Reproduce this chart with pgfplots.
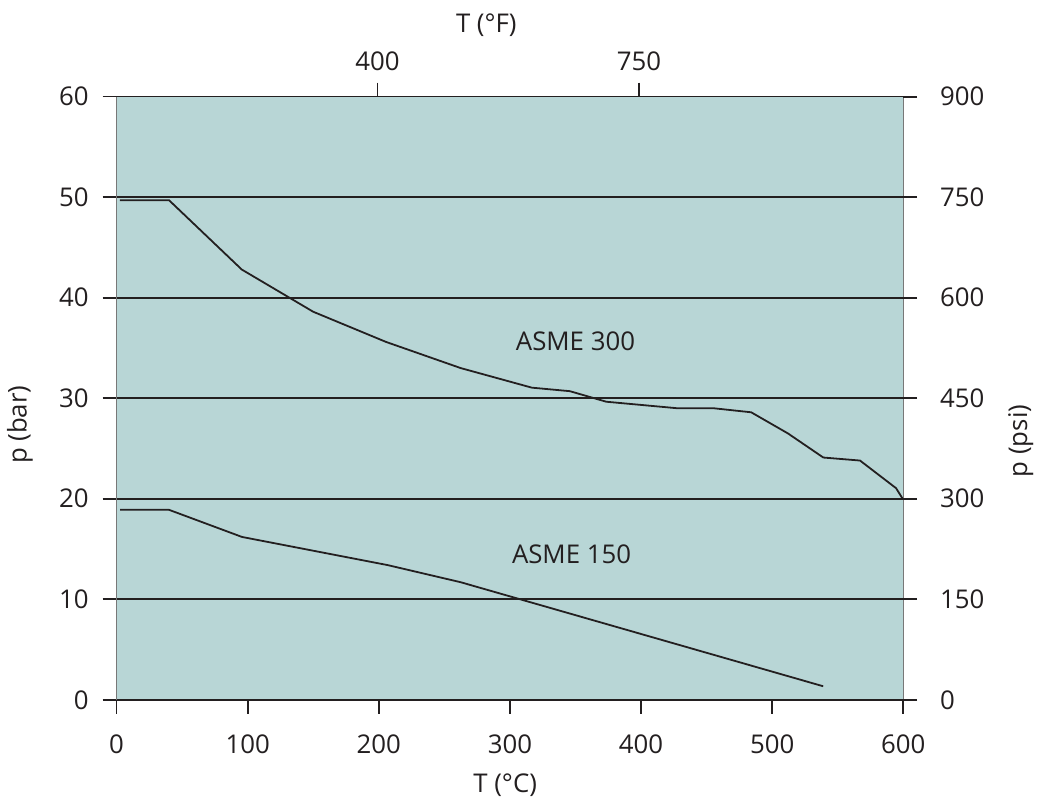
\documentclass[border=0pt]{standalone}
\usepackage{fontspec}
\setmainfont{Open Sans}
\usepackage{pgfplots}
\pgfplotsset{compat=1.18}
\definecolor{bgteal}{RGB}{184,214,214}
\definecolor{ink}{RGB}{35,31,32}
\definecolor{edge}{RGB}{120,120,120}
\begin{document}
\begin{tikzpicture}
\pgfplotsset{
  common/.style={
    scale only axis, width=395bp, height=302.85bp,
    xmin=0, xmax=600, ymin=0,
    font=\fontsize{13}{15.6}\selectfont,
    /pgf/number format/assume math mode=true,
    tick align=outside, major tick length=7bp,
    tick style={ink, line width=0.9bp},
    axis line style={draw=none},
    ticklabel style={text=ink},
    minor tick num=0,
  }
}
\begin{axis}[common, ymax=60,
  axis background/.style={fill=bgteal},
  xtick={0,100,...,600}, ytick={0,10,...,60},
  xtick pos=lower, ytick pos=left,
  xticklabel style={yshift=-7bp},
  yticklabel style={xshift=-3.5bp},
  ymajorgrids, major grid style={ink, line width=0.9bp},
  clip=false]
  \addplot[ink, line width=0.9bp] coordinates {
    (2.5,49.7) (40,49.7) (95.5,42.8) (150,38.6) (205.5,35.6) (262.4,33.0)
    (316.7,31.05) (345.7,30.7) (373.5,29.65) (427.8,29.0) (455.5,29.0)
    (484,28.6) (512,26.5) (539,24.1) (567,23.8) (594.5,21.05) (599.5,20.0)};
  \addplot[ink, line width=0.9bp] coordinates {
    (2.8,18.9) (40,18.9) (95.7,16.2) (206.8,13.4) (262.4,11.7) (538.9,1.35)};
  \draw[edge, line width=0.8bp] (rel axis cs:0,0) -- (rel axis cs:0,1);
  \draw[edge, line width=0.8bp] (rel axis cs:1,0) -- (rel axis cs:1,1);
  \node[text=ink] at (axis cs:350,35.7) {ASME 300};
  \node[text=ink] at (axis cs:347,14.5) {ASME 150};
  \node[text=ink] at ([yshift=-43bp]rel axis cs:0.494,0) {T (°C)};
  \node[text=ink] at ([yshift=36bp]rel axis cs:0.47,1) {T (°F)};
  \node[text=ink, rotate=90] at ([xshift=-48.5bp]rel axis cs:0,0.456) {p (bar)};
  \node[text=ink, rotate=90] at ([xshift=59bp]rel axis cs:1,0.429) {p (psi)};
\end{axis}
\begin{axis}[common, ymax=900,
  ytick={0,150,...,900}, ytick pos=right,
  xtick={199,398.5}, xticklabels={400,750}, xtick pos=upper,
  xticklabel style={yshift=2.5bp},
  yticklabel style={xshift=8bp}]
\end{axis}
\path (-58.5bp,-49.15bp) rectangle (461.5bp,351.35bp);
\end{tikzpicture}
\end{document}
